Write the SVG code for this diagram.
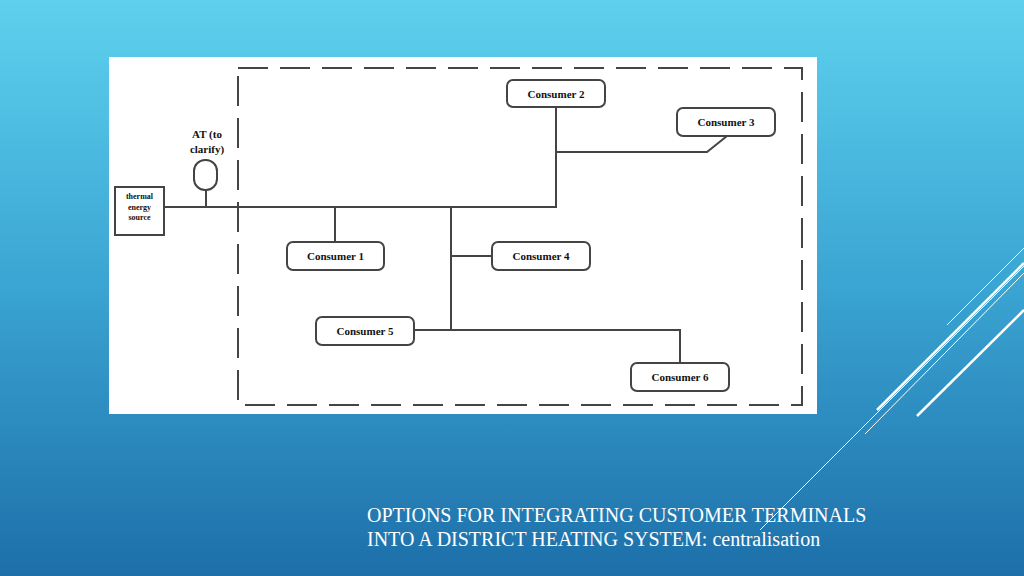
<svg xmlns="http://www.w3.org/2000/svg" width="1024" height="576" viewBox="0 0 1024 576">
<defs>
<linearGradient id="bg" x1="0" y1="0" x2="0" y2="1">
<stop offset="0" stop-color="#5ed1ee"/><stop offset="0.5" stop-color="#3aa4d2"/><stop offset="1" stop-color="#1d6fa9"/>
</linearGradient>
<style>
.ln{stroke:#444;stroke-width:2;fill:none}
.bx{fill:#fff;stroke:#444;stroke-width:2}
.t{font-family:"Liberation Serif",serif;font-weight:bold;font-size:11px;fill:#111;text-anchor:middle}
.s{font-family:"Liberation Serif",serif;font-weight:bold;font-size:8px;fill:#111;text-anchor:middle}
.d{stroke:#fff;fill:none}
</style>
</defs>
<rect width="1024" height="576" fill="url(#bg)"/>
<g id="deco">
<line class="d" x1="947" y1="325" x2="1024" y2="248" stroke-width="1"/>
<line class="d" x1="877" y1="410" x2="1024" y2="263" stroke-width="2.5"/>
<line class="d" x1="865" y1="434" x2="1024" y2="273" stroke-width="1"/>
<line class="d" x1="917" y1="416" x2="1024" y2="310" stroke-width="2.5"/>
<line class="d" x1="760" y1="530" x2="1024" y2="266" stroke-width="1"/>
</g>
<rect x="109" y="57" width="708" height="357" fill="#fff"/>
<rect x="238" y="68" width="564" height="337" fill="none" stroke="#444" stroke-width="2" stroke-dasharray="30 12"/>
<g id="connectors">
<path class="ln" d="M164 207H556V107M556 152H707L727 136M335 207V242M451 207V330M451 256H492M414 330H680V363M206 190V207"/>
</g>
<g id="source"><rect class="bx" x="115" y="187" width="49" height="48"/><text class="s" x="139.5" y="199">thermal</text><text class="s" x="139.5" y="210">energy</text><text class="s" x="139.5" y="220">source</text></g>
<g id="at"><rect class="bx" x="194" y="160" width="23" height="30" rx="11"/><text class="t" x="207" y="138">AT (to</text><text class="t" x="207" y="153">clarify)</text></g>
<g id="c2"><rect class="bx" x="507" y="80" width="98" height="27" rx="6"/><text class="t" x="556" y="98">Consumer 2</text></g>
<g id="c3"><rect class="bx" x="677" y="108" width="98" height="28" rx="6"/><text class="t" x="726" y="126">Consumer 3</text></g>
<g id="c1"><rect class="bx" x="287" y="242" width="97" height="28" rx="6"/><text class="t" x="335.5" y="260">Consumer 1</text></g>
<g id="c4"><rect class="bx" x="492" y="242" width="98" height="28" rx="6"/><text class="t" x="541" y="260">Consumer 4</text></g>
<g id="c5"><rect class="bx" x="316" y="317" width="98" height="28" rx="6"/><text class="t" x="365" y="335">Consumer 5</text></g>
<g id="c6"><rect class="bx" x="631" y="363" width="98" height="28" rx="6"/><text class="t" x="680" y="381">Consumer 6</text></g>
<g id="title" font-family="'Liberation Serif',serif" font-size="20" fill="#fff">
<text x="367" y="522">OPTIONS FOR INTEGRATING CUSTOMER TERMINALS</text>
<text x="367" y="546">INTO A DISTRICT HEATING SYSTEM: centralisation</text>
</g>
</svg>
